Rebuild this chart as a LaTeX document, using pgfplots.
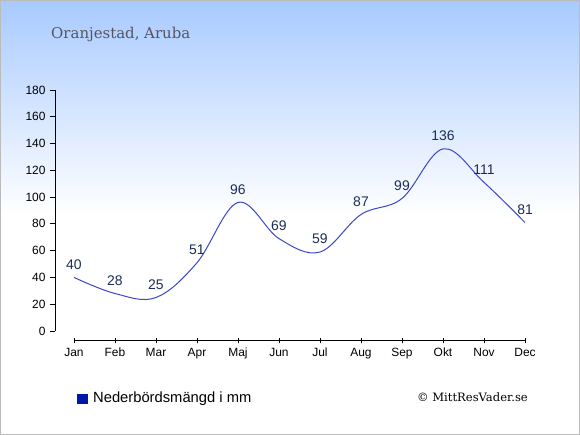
\documentclass[border=0pt]{standalone}
\usepackage{fontspec}
\setmainfont{DejaVu Serif}
\setsansfont{Liberation Sans}
\usepackage{pgfplots}
\pgfplotsset{compat=1.18}
\definecolor{linec}{RGB}{58,72,200}
\definecolor{labc}{RGB}{30,45,85}
\definecolor{legc}{RGB}{0,24,168}
\definecolor{topc}{RGB}{168,202,255}
\definecolor{bordc}{RGB}{187,187,187}
\definecolor{titc}{RGB}{85,85,95}
\begin{document}
\begin{tikzpicture}[x=1bp,y=1bp]
\fill[white] (0,0) rectangle (580,435);
\shade[top color=topc, bottom color=white] (0,220) rectangle (580,435);
\draw[bordc, line width=1bp] (0.5,0.5) rectangle (579.5,434.5);
\path[use as bounding box] (0,0) rectangle (580,435);
\node[anchor=base west, inner sep=0pt, text=titc, font=\fontsize{15}{18}\selectfont] at (51,396) {Oranjestad, Aruba};
\fill[legc] (77,31) rectangle (88,41);
\node[anchor=base west, inner sep=0pt, font=\fontsize{14.8}{16}\sffamily] at (93,32) {Nederbördsmängd i mm};
\node[anchor=base east, inner sep=0pt, font=\fontsize{11.6}{15}\selectfont] at (528,33) {© MittResVader.se};
\begin{axis}[
  at={(55bp,94bp)}, anchor=south west, scale only axis,
  width=470bp, height=251bp,
  xmin=-0.463, xmax=11, ymin=-7.47, ymax=180,
  axis lines=left, axis line style={draw=none},
  xtick={0,...,11},
  xticklabels={Jan,Feb,Mar,Apr,Maj,Jun,Jul,Aug,Sep,Okt,Nov,Dec},
  ytick={0,20,...,180},
  x tick label style={font=\fontsize{12}{14}\sffamily, yshift=-1bp},
  y tick label style={font=\fontsize{12}{14}\sffamily, xshift=-1bp},
  /pgf/number format/assume math mode=true,
  tick style={black, line width=0.8bp},
  xtick align=center, ytick align=outside,
  major tick length=5bp,
  clip=false,
]
\draw[black, line width=1bp] (axis cs:0,-7.47) -- (axis cs:11,-7.47);
\draw[black, line width=1bp] (axis cs:-0.463,0) -- (axis cs:-0.463,180);
\addplot[linec, line width=1bp, smooth, tension=0.6, mark=none,
  nodes near coords,
  every node near coord/.append style={font=\fontsize{14}{16}\sffamily, text=labc, anchor=base, inner sep=0pt, yshift=8bp}]
  coordinates {(0,40) (1,28) (2,25) (3,51) (4,96) (5,69) (6,59) (7,87) (8,99) (9,136) (10,111) (11,81)};
\end{axis}
\end{tikzpicture}
\end{document}
